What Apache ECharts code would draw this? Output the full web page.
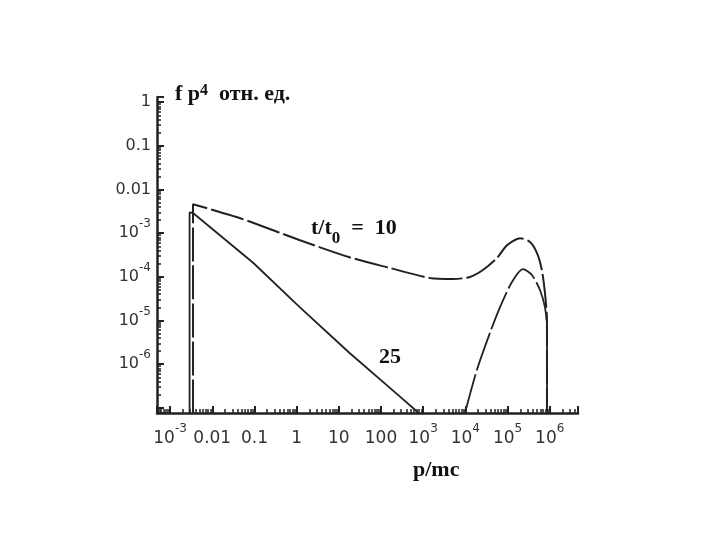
<!DOCTYPE html>
<html>
<head>
<meta charset="utf-8">
<script src="https://cdn.jsdelivr.net/npm/echarts@6/dist/echarts.min.js"></script>
<style>
  html, body { margin: 0; background: #fff; }
  #chart { width: 720px; height: 540px; }
</style>
</head>
<body>
<div id="chart"></div>
<script>
// values: p/mc against f p^4 (arb. units)
// the first/last points sit below the axis floor to draw the vertical edges
const p10 = [3.5e-3, 3.5e-3, 0.046, 1.2, 18, 160, 1450, 5100, 12800, 26000, 56000, 97000, 197000, 340000, 500000, 650000, 770000, 860000, 860000];
const f10 = [1e-8, 4.6e-3, 2.2e-3, 6.9e-4, 2.8e-4, 1.6e-4, 9.4e-5, 8.9e-5, 9.9e-5, 1.43e-4, 2.7e-4, 5.3e-4, 7.7e-4, 6.3e-4, 3.5e-4, 1.43e-4, 4.3e-5, 1.0e-5, 1e-8];

const p25 = [2.9e-3, 2.9e-3, 3.5e-3, 0.093, 1.2, 18, 282, 640, 750];
const f25 = [1e-8, 3.0e-3, 2.9e-3, 2.1e-4, 2.0e-5, 1.8e-6, 1.8e-7, 9e-8, 7.6e-8];

const p25bump = [9800, 18800, 38300, 66000, 127000, 232000, 378000, 586000, 770000, 860000, 860000];
const f25bump = [7.6e-8, 7.4e-7, 5.2e-6, 2.0e-5, 7.6e-5, 1.5e-4, 1.1e-4, 5.0e-5, 2.0e-5, 7.1e-6, 1e-8];

const xTickExp = [-3, -2, -1, 0, 1, 2, 3, 4, 5, 6];
const xTickLabels = ['10{s|-3}', '0.01', '0.1', '1', '10', '100', '10{s|3}', '10{s|4}', '10{s|5}', '10{s|6}'];
const yTickExp = [0, -1, -2, -3, -4, -5, -6];
const yTickLabels = ['1', '0.1', '0.01', '10{s|-3}', '10{s|-4}', '10{s|-5}', '10{s|-6}'];

const zip = (xs, ys) => xs.map((x, i) => [x, ys[i]]);

// label lookup by exponent, blank for anything off a decade
const labelFor = (exps, labels) => (value) => {
  const lg = Math.log10(value);
  const k = Math.round(lg);
  if (Math.abs(lg - k) > 0.01) return '';
  const i = exps.indexOf(k);
  return i < 0 ? '' : labels[i];
};

const ink = '#222';
const tickFont = 'DejaVu Sans';
const serif = 'Liberation Serif';

const chart = echarts.init(document.getElementById('chart'));

const option = {
  backgroundColor: '#fff',
  animation: false,
  grid: { left: 157, right: 142, top: 97, bottom: 127 },
  title: [
    {
      text: 'f p{s|4}  отн. ед.',
      left: 170, top: 78,
      textStyle: {
        fontFamily: serif, fontWeight: 'bold', fontSize: 22, color: '#111',
        rich: { s: { fontFamily: serif, fontWeight: 'bold', fontSize: 16, verticalAlign: 'top', lineHeight: 14 } }
      }
    },
    {
      text: 't/t{b|0}  =  10',
      left: 306, top: 212,
      textStyle: {
        fontFamily: serif, fontWeight: 'bold', fontSize: 22, color: '#111',
        rich: { b: { fontFamily: serif, fontWeight: 'bold', fontSize: 17, verticalAlign: 'bottom', padding: [0, 0, -8, 0] } }
      }
    },
    {
      text: '25',
      left: 374, top: 341,
      textStyle: { fontFamily: serif, fontWeight: 'bold', fontSize: 22, color: '#111' }
    },
    {
      text: 'p/mc',
      left: 408, top: 454,
      textStyle: { fontFamily: serif, fontWeight: 'bold', fontSize: 22, color: '#111' }
    }
  ],
  xAxis: {
    type: 'log',
    min: Math.pow(10, -3.31),
    max: Math.pow(10, 6.67),
    splitNumber: 10,
    axisLine: { lineStyle: { color: ink, width: 2.5 } },
    axisTick: { show: true, inside: true, length: 7, lineStyle: { color: ink, width: 2 } },
    minorTick: { show: true, splitNumber: 9, length: 4, lineStyle: { color: ink, width: 1.5 } },
    splitLine: { show: false },
    axisLabel: {
      showMinLabel: false, showMaxLabel: false,
      margin: 10,
      lineHeight: 32,
      color: '#333', fontFamily: tickFont, fontSize: 17,
      formatter: labelFor(xTickExp, xTickLabels),
      rich: { s: { fontFamily: tickFont, fontSize: 12, verticalAlign: 'top', lineHeight: 10 } }
    }
  },
  yAxis: {
    type: 'log',
    min: Math.pow(10, -7.12),
    max: Math.pow(10, 0.12),
    splitNumber: 8,
    axisLine: { lineStyle: { color: ink, width: 2.5 } },
    axisTick: { show: true, inside: true, length: 7, lineStyle: { color: ink, width: 2 } },
    minorTick: { show: true, splitNumber: 9, length: 4, lineStyle: { color: ink, width: 1.5 } },
    splitLine: { show: false },
    axisLabel: {
      showMinLabel: false, showMaxLabel: false,
      margin: 6,
      lineHeight: 30,
      color: '#333', fontFamily: tickFont, fontSize: 16,
      formatter: labelFor(yTickExp, yTickLabels),
      rich: { s: { fontFamily: tickFont, fontSize: 12, verticalAlign: 'top', lineHeight: 10 } }
    }
  },
  series: [
    {
      name: 't/t0 = 10',
      type: 'line',
      data: zip(p10, f10),
      showSymbol: false,
      smooth: 0.25,
      lineStyle: { color: ink, width: 2, type: [34, 4] }
    },
    {
      name: 't/t0 = 25',
      type: 'line',
      data: zip(p25, f25),
      showSymbol: false,
      lineStyle: { color: ink, width: 1.8 }
    },
    {
      name: 't/t0 = 25',
      type: 'line',
      data: zip(p25bump, f25bump),
      showSymbol: false,
      smooth: 0.25,
      lineStyle: { color: ink, width: 1.8, type: [40, 4] }
    }
  ]
};

chart.setOption(option);
</script>
</body>
</html>
